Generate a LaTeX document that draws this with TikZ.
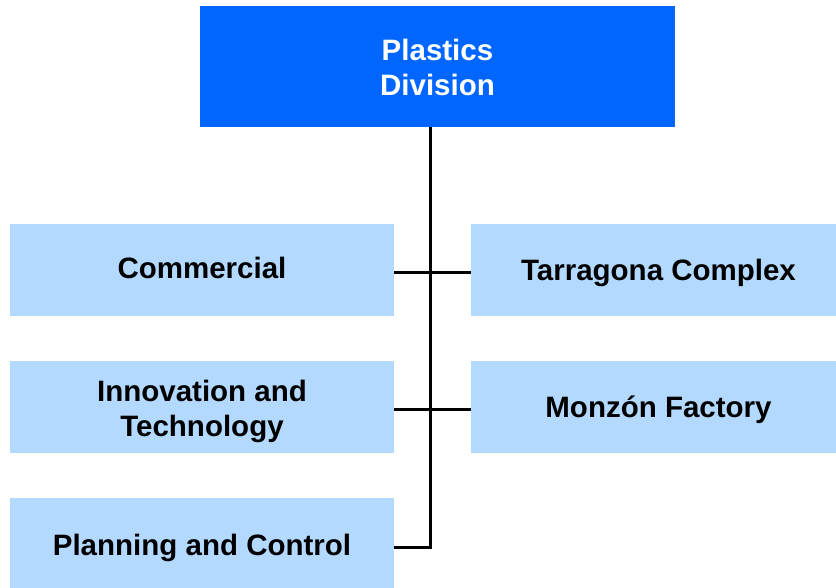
\documentclass[tikz,border=0pt]{standalone}
\usepackage{fontspec}
\setmainfont{Liberation Sans}
\definecolor{topblue}{HTML}{0066FF}
\definecolor{lightblue}{HTML}{B3D9FF}
\begin{document}
\begin{tikzpicture}[x=1pt,y=-1pt,
  box/.style={rectangle, fill=lightblue, inner sep=0pt, minimum width=384pt, minimum height=92pt},
  rbox/.style={box, minimum width=365pt},
  topbox/.style={rectangle, fill=topblue, inner sep=0pt, minimum width=475pt, minimum height=121pt},
  txt/.style={inner sep=0pt, font=\fontsize{29.5}{35}\selectfont\bfseries, align=center, text=black},
  wtxt/.style={txt, text=white},
  conn/.style={line width=3pt, black}]
\useasboundingbox (0,0) rectangle (836,587);
\node[topbox] (top) at (437.5,66.5) {};
\node[box] (com) at (202,270) {};
\node[box] (inn) at (202,407) {};
\node[box] (pla) at (202,544) {};
\node[rbox] (tar) at (653.5,270) {};
\node[rbox] (mon) at (653.5,407) {};
\node[wtxt] (topt) at ([yshift=-1pt]top.center) {Plastics\\Division};
\node[txt] (comt) at ([yshift=2pt]com.center) {Commercial};
\node[txt] (innt) at ([yshift=-4pt]inn.center) {Innovation and\\Technology};
\node[txt] (plat) at ([yshift=-4pt]pla.center) {Planning and Control};
\node[txt] (tart) at ([xshift=5pt,yshift=-3pt]tar.center) {Tarragona Complex};
\node[txt] (mont) at ([xshift=5pt,yshift=-3pt]mon.center) {Monzón Factory};
\coordinate (end) at (430,547);
\draw[conn] (top.south -| end) -- (end);
\draw[conn] ([yshift=-2pt]com.east) -- ([yshift=-2pt]tar.west);
\draw[conn] ([yshift=-2pt]inn.east) -- ([yshift=-2pt]mon.west);
\draw[conn] (pla.east |- end) -- ([xshift=1.5pt]end);
\end{tikzpicture}
\end{document}
